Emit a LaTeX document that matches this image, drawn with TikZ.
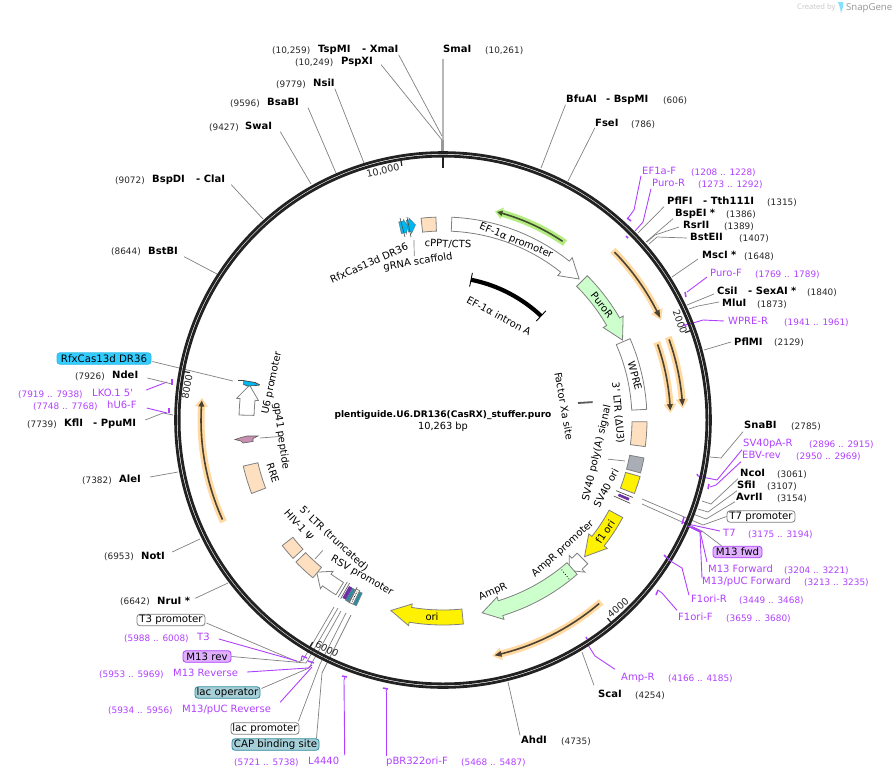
\documentclass[tikz,border=0pt]{standalone}
\usepackage{fontspec}
\setmainfont{DejaVu Sans}
\newfontfamily\plainfont{DejaVu Sans}
\newfontfamily\logofont{Open Sans}
\definecolor{prim}{HTML}{B040FF}
\definecolor{peach}{HTML}{FEDFC0}
\definecolor{mintg}{HTML}{CCFFCC}
\definecolor{grayf}{HTML}{A9AEB6}
\definecolor{tealb}{HTML}{A6CFD8}
\definecolor{teald}{HTML}{2F8CA0}
\definecolor{cyanb}{HTML}{33CCFF}
\definecolor{cyand}{HTML}{00B8F0}
\definecolor{lilac}{HTML}{E0B0FF}
\definecolor{darkp}{HTML}{6A2CA0}
\definecolor{pinkf}{HTML}{C890B0}
\definecolor{glowo}{HTML}{FFD9A0}
\definecolor{glowg}{HTML}{B5EC80}
\definecolor{orfd}{HTML}{4D4232}
\definecolor{orfg}{HTML}{3F5030}
\definecolor{ringc}{HTML}{222222}
\tikzset{
 tx/.style={inner sep=0pt,text height=7.2pt,text depth=1.8pt},
 enz/.style={tx,anchor=west,font=\fontsize{10}{11}\bfseries\selectfont},
 numb/.style={tx,anchor=west,font=\fontsize{8.9}{11}\selectfont,text=black!85},
 prn/.style={tx,anchor=west,font=\fontsize{10}{11}\selectfont,text=prim},
 prq/.style={tx,anchor=west,font=\fontsize{8.9}{11}\selectfont,text=prim},
 fl/.style={inner sep=0pt,font=\fontsize{10}{11}\selectfont},
 tickl/.style={inner sep=0pt,font=\fontsize{9.6}{11}\selectfont,text=black!85},
 lead/.style={draw=black!50,line width=0.7pt},
 plead/.style={draw=prim,line width=0.9pt},
 pmark/.style={draw=prim,line width=1.5pt},
 fw/.style={draw=black!50,line width=0.8pt,fill=white},
 fpeach/.style={fw,fill=peach},
 fgreen/.style={fw,fill=mintg},
 fyell/.style={fw,fill=yellow},
 fgray/.style={fw,fill=grayf},
 glowO/.style={fill=glowo,draw=none},
 glowG/.style={fill=glowg,draw=none},
 coreO/.style={fill=orfd,draw=none},
 coreG/.style={fill=orfg,draw=none},
 tagbox/.style={rounded corners=3pt,inner sep=0pt,minimum height=11.5pt,font=\fontsize{10.2}{11}\selectfont,line width=0.8pt},
 tagw/.style={tagbox,draw=black!50,fill=white},
 tagt/.style={tagbox,draw=teald,fill=tealb},
 tagc/.style={tagbox,draw=black!10!cyanb,fill=cyanb},
 tagl/.style={tagbox,draw=prim,fill=lilac},
}
\newcommand\lblE[4]{\node[enz] (#1) at (#2,#3) {#4};}
\newcommand\lblN[4]{\node[numb] (#1) at (#2,#3) {#4};}
\newcommand\lblP[4]{\node[prn] (#1) at (#2,#3) {#4};}
\newcommand\lblQ[4]{\node[prq] (#1) at (#2,#3) {#4};}
\newcommand\pt[2]{\coordinate (#1) at (#2);}
\newcommand\featbox[5]{\draw[#1] plot[variable=\t,domain=#4:#5,samples=12] ({\t-90}:#3) -- plot[variable=\t,domain=#5:#4,samples=12] ({\t-90}:#2) -- cycle;}
\newcommand\featarrow[7]{\draw[#1] plot[variable=\t,domain=#4:#5,samples=16] ({\t-90}:#3) -- ({#5-90}:{#3+#7}) -- ({#6-90}:{(#2+#3)/2}) -- ({#5-90}:{#2-#7}) -- plot[variable=\t,domain=#5:#4,samples=16] ({\t-90}:#2) -- cycle;}
\begin{document}
\begin{tikzpicture}[x=1pt,y=-1pt]
\useasboundingbox (0,0) rectangle (894,779);
% logo
\node[inner sep=0pt,anchor=west,font=\fontsize{7.6}{9}\logofont\selectfont,text=black!22] (logoa) at (797,8) {Created by};
\fill[cyanb!60] (838,2) -- (843,2) -- (843,7) -- (841,13) -- (840,8) -- cycle;
\node[inner sep=0pt,anchor=west,font=\fontsize{9.6}{11}\logofont\selectfont,text=black!42] (logob) at (846,8) {SnapGene};

% enzyme labels, top
\lblN{tsp-n}{272}{51}{(10,259)}\lblE{tsp}{318}{50}{TspMI}\lblE{xma}{362}{50}{- XmaI}
\lblE{sma}{443}{50}{SmaI}\lblN{sma-n}{485}{51}{(10,261)}
\lblN{psp-n}{295}{63}{(10,249)}\lblE{psp}{341}{62}{PspXI}
\lblN{nsi-n}{276}{85}{(9779)}\lblE{nsi}{313}{84}{NsiI}
\lblN{bsa-n}{230}{104}{(9596)}\lblE{bsa}{267}{103}{BsaBI}
\lblN{swa-n}{209}{128}{(9427)}\lblE{swa}{245}{127}{SwaI}
\lblN{bspd-n}{115}{181}{(9072)}\lblE{bspd}{152}{180}{BspDI}\lblE{cla}{196}{180}{- ClaI}
\lblN{bstb-n}{111}{252}{(8644)}\lblE{bstb}{148}{252}{BstBI}
\lblE{bfu}{566}{100}{BfuAI}\lblE{bspm}{606}{100}{- BspMI}\lblN{bfu-n}{663}{101}{(606)}
\lblE{fse}{595}{124}{FseI}\lblN{fse-n}{631}{125}{(786)}
% right side
\lblP{ef1f}{642}{172}{EF1a-F}\lblQ{ef1f-n}{691}{173}{(1208 .. 1228)}
\lblP{purr}{652}{184}{Puro-R}\lblQ{purr-n}{698}{185}{(1273 .. 1292)}
\lblE{pfl}{667}{202}{PflFI}\lblE{tth}{703}{202}{- Tth111I}\lblN{pfl-n}{767}{203}{(1315)}
\lblE{bspe}{675}{214}{BspEI *}\lblN{bspe-n}{726}{215}{(1386)}
\lblE{rsr}{683}{226}{RsrII}\lblN{rsr-n}{724}{227}{(1389)}
\lblE{bste}{690}{238}{BstEII}\lblN{bste-n}{739}{239}{(1407)}
\lblE{msc}{702}{256}{MscI *}\lblN{msc-n}{744}{257}{(1648)}
\lblP{purf}{710}{274}{Puro-F}\lblQ{purf-n}{755}{275}{(1769 .. 1789)}
\lblE{csi}{717}{292}{CsiI}\lblE{sex}{748}{292}{- SexAI *}\lblN{csi-n}{807}{293}{(1840)}
\lblE{mlu}{722}{304}{MluI}\lblN{mlu-n}{757}{305}{(1873)}
\lblP{wprer}{728}{322}{WPRE-R}\lblQ{wprer-n}{784}{323}{(1941 .. 1961)}
\lblE{pflm}{734}{343}{PflMI}\lblN{pflm-n}{774}{343}{(2129)}
\lblE{sna}{744}{426}{SnaBI}\lblN{sna-n}{791}{427}{(2785)}
\lblP{svr}{743}{444}{SV40pA-R}\lblQ{svr-n}{809}{445}{(2896 .. 2915)}
\lblP{ebv}{742}{456}{EBV-rev}\lblQ{ebv-n}{796}{457}{(2950 .. 2969)}
\lblE{nco}{740}{474}{NcoI}\lblN{nco-n}{777}{475}{(3061)}
\lblE{sfi}{737}{486}{SfiI}\lblN{sfi-n}{767}{487}{(3107)}
\lblE{avr}{736}{498}{AvrII}\lblN{avr-n}{777}{499}{(3154)}
\node[tagw,minimum width=68pt] (t7p) at (761,516.5) {T7 promoter};
\lblP{t7}{723}{534}{T7}\lblQ{t7-n}{748}{535}{(3175 .. 3194)}
\node[tagl,minimum width=49pt] (m13f) at (737.5,552) {M13 fwd};
\lblP{m13fw}{708}{570}{M13 Forward}\lblQ{m13fw-n}{784}{571}{(3204 .. 3221)}
\lblP{mpf}{702}{582}{M13/pUC Forward}\lblQ{mpf-n}{804}{583}{(3213 .. 3235)}
\lblP{f1r}{691}{600}{F1ori-R}\lblQ{f1r-n}{739}{601}{(3449 .. 3468)}
\lblP{f1f}{678}{618}{F1ori-F}\lblQ{f1f-n}{726}{619}{(3659 .. 3680)}
\lblP{ampr}{621}{678}{Amp-R}\lblQ{ampr-n}{668}{679}{(4166 .. 4185)}
\lblE{sca}{598}{695}{ScaI}\lblN{sca-n}{635}{696}{(4254)}
\lblE{ahd}{521}{741}{AhdI}\lblN{ahd-n}{561}{742}{(4735)}
% bottom
\lblP{pbr}{386}{762}{pBR322ori-F}\lblQ{pbr-n}{461}{763}{(5468 .. 5487)}
\lblQ{l44-n}{234}{763}{(5721 .. 5738)}\lblP{l44}{308}{762}{L4440}
\node[tagt,minimum width=87pt] (cap) at (275.5,744.5) {CAP binding site};
\node[tagw,minimum width=68pt] (lacp) at (265,728.5) {lac promoter};
\lblQ{mpr-n}{108}{711}{(5934 .. 5956)}\lblP{mpr}{182}{710}{M13/pUC Reverse}
\node[tagt,minimum width=65pt] (laco) at (227.5,692.5) {lac operator};
\lblQ{m13r-n}{99}{675}{(5953 .. 5969)}\lblP{m13r}{173}{674}{M13 Reverse}
\node[tagl,minimum width=48pt] (m13rv) at (207,656.5) {M13 rev};
\lblQ{t3-n}{124}{639}{(5988 .. 6008)}\lblP{t3}{197}{638}{T3}
\node[tagw,minimum width=68pt] (t3p) at (171,620) {T3 promoter};
\lblN{nru-n}{120}{602}{(6642)}\lblE{nru}{157}{602}{NruI *}
\lblN{not-n}{104}{557}{(6953)}\lblE{not}{141}{557}{NotI}
\lblN{ale-n}{82}{481}{(7382)}\lblE{ale}{119}{480}{AleI}
\lblN{kfl-n}{27}{425}{(7739)}\lblE{kfl}{64}{424}{KflI}\lblE{ppu}{93}{424}{- PpuMI}
\lblQ{hu6-n}{33}{407}{(7748 .. 7768)}\lblP{hu6}{107}{406}{hU6-F}
\lblQ{lko-n}{18}{395}{(7919 .. 7938)}\lblP{lko}{92}{394}{LKO.1 {\plainfont 5'}}
\lblN{nde-n}{75}{377}{(7926)}\lblE{nde}{112}{376}{NdeI}
\node[tagc,minimum width=94pt] (dr36) at (104,358.5) {RfxCas13d DR36};

% coordinates of leader ends
\pt{r-tsp}{442,136}\pt{r-psp}{442,140}\pt{r-nsi}{364,163}\pt{r-bsa}{336,173}\pt{r-swa}{311,184}
\pt{r-bspd}{263,219}\pt{r-bstb}{217,274}\pt{r-bfu}{541,168}\pt{r-fse}{568,181}
\pt{r-sma}{443,152}
\draw[draw=black!28,line width=2.5pt] (sma.south west) ++(0,4) -- (r-sma);
\draw[lead] (xma.south east) -- (r-tsp);
\draw[lead] (psp.south east) ++(8,-2) -- (r-psp);
\draw[lead] (nsi.south east) -- (r-nsi);
\draw[lead] (bsa.south east) ++(9,0) -- (r-bsa);
\draw[lead] (swa.south east) ++(8,0) -- (r-swa);
\draw[lead] (cla.south east) ++(6,0) -- (r-bspd);
\draw[lead] (bstb.south east) ++(6,0) -- (r-bstb);
\draw[lead] (bfu.south) ++(-16,0) -- (r-bfu);
\draw[lead] (fse.south west) ++(0,-1) -- (r-fse);
\fill[black!40] (441,140) rectangle (444,152);
% right leaders
\pt{a1}{634,210}\pt{a2}{628,218}\draw[plead] (ef1f.south west) ++(-1,-1) -- (a1) -- (a2);
\pt{b1}{643,222}\pt{b2}{635,231}\draw[plead] (purr.south west) ++(-1,0) -- (b1) -- (b2);
\pt{c1}{638,233}\draw[lead] (pfl.south west) ++(-3,0) -- (c1);
\pt{c2}{646,242}\draw[lead] (bspe.south west) ++(-2,0) -- (c2);
\pt{c3a}{655,235}\pt{c3b}{647,242}\draw[lead] (rsr.west) ++(-4,1) -- (c3a) -- (c3b);
\pt{c4a}{657,237}\pt{c4b}{649,244}\draw[lead] (bste.west) ++(-3,0) -- (c4a) -- (c4b);
\pt{c5}{672,277}\draw[lead] (msc.west) ++(-4,3) -- (c5);
\pt{d1}{687,292}\draw[plead] (purf.west) ++(-3,3) -- (d1);
\pt{c6}{687,305}\draw[lead] (csi.west) ++(-3,2) -- (c6);
\pt{c7a}{698,306}\pt{c7b}{689,309}\draw[lead] (mlu.west) ++(-3,-2) -- (c7a) -- (c7b);
\pt{d2a}{703,320}\pt{d2b}{693,323}\pt{d2c}{685,325}\draw[plead] (wprer.west) ++(-4,-1) -- (d2a) -- (d2b) -- (d2c);
\pt{c8}{704,350}\draw[lead] (pflm.west) ++(-3,-1) -- (c8);
\pt{e1a}{721,458}\pt{e1b}{710,457}\draw[lead] (sna.south west) ++(-1,1) -- (e1a) -- (e1b);
\pt{f1a}{717,480}\pt{f1b}{707,478}\pt{f1c}{698,476}\draw[plead] (svr.south west) ++(-1,1) -- (f1a) -- (f1b) -- (f1c);
\pt{f2a}{716,485}\pt{f2b}{710,487}\draw[plead] (ebv.south west) ++(-1,1) -- (f2a) -- (f2b);
\pt{e2a}{711,504}\pt{e2b}{702,501}\draw[lead] (nco.south west) ++(-2,0) -- (e2a) -- (e2b);
\pt{e3a}{708,512}\pt{e3b}{698,509}\draw[lead] (sfi.south west) ++(0,0) -- (e3a) -- (e3b);
\pt{e4a}{706,519}\pt{e4b}{693,514}\draw[lead] (avr.south west) ++(-1,-1) -- (e4a) -- (e4b);
\pt{g1a}{642,499}\pt{g1b}{703,525}\draw[lead] (t7p.west) -- (g1b) -- (g1a);
\pt{g2a}{642,504}\pt{g2b}{702,531}\draw[lead] (m13f.north west) ++(9,0) -- (g2b) -- (g2a);
\pt{h1a}{692,525}\pt{h1b}{683,522}\draw[plead] (t7.west) ++(-3,-3) -- (h1a) -- (h1b);
\pt{h2}{700,531}\pt{h2b}{692,527}\draw[plead] (m13fw.west) ++(-1,-8) -- (h2) -- (h2b);
\pt{h3}{700,532}\pt{h3b}{688,526}\draw[plead] (mpf.north west) ++(0,1) -- (h3) -- (h3b);
\pt{i1a}{682,568}\pt{i1b}{672,562}\draw[plead] (f1r.north west) ++(-2,0) -- (i1a) -- (i1b);
\pt{i2}{662,593}\draw[plead] (f1f.north west) ++(-1,-3) -- (i2);
\pt{i3a}{595,656}\pt{i3b}{588,645}\draw[plead] (ampr.north west) ++(-6,-4) -- (i3a) -- (i3b);
\pt{j1}{582,652}\draw[lead] (sca.north west) ++(-4,-5) -- (j1);
\pt{j2}{508,682}\draw[lead] (ahd.north west) ++(-1,-1) -- (j2);
% bottom leaders
\pt{k1}{386,692}\draw[plead] (pbr.north west) ++(0,-1) -- (k1);
\pt{k2}{344,680}\draw[plead] (l44.north) ++(21,-2) -- (k2);
\pt{l1a}{326,665}\pt{l1b}{351,615}\pt{l1c}{322,673}\draw[lead] (cap.north) ++(41,0) -- (l1c) -- (l1a) -- (l1b);
\pt{l2a}{320,664}\pt{l2b}{346,613}\draw[lead] (lacp.north east) ++(-1,-1) -- (l2a) -- (l2b);
\pt{l3a}{309,668}\pt{l3b}{341,611}\draw[lead] (laco.east) ++(1,-4) -- (l3a) -- (l3b);
\pt{l4a}{306,663}\pt{l4b}{338,608}\draw[lead] (m13rv.east) -- (l4a) -- (l4b);
\pt{l5a}{298,662}\pt{l5b}{303,660}\pt{l5c}{334,607}\draw[lead] (t3p.east) ++(1,3) -- (l5a) -- (l5b) -- (l5c);
\pt{n1}{297,661}\draw[plead] (t3.east) ++(9,1) -- (n1);
\pt{n2a}{308,668}\pt{n2b}{312,665}\draw[plead] (m13r.east) ++(9,-2) -- (n2a) -- (n2b);
\pt{n3}{312,667}\draw[plead] (mpr.north east) ++(9,-3) -- (n3);
% left leaders
\pt{o1}{228,583}\draw[lead] (nru.north east) ++(5,1) -- (o1);
\pt{o2}{200,539}\draw[lead] (not.east) ++(7,-5) -- (o2);
\pt{o3}{178,472}\draw[lead] (ale.east) ++(9,-3) -- (o3);
\pt{o4a}{163,413}\pt{o4b}{173,415}\draw[lead] (ppu.east) ++(9,-4) -- (o4a) -- (o4b);
\pt{q1}{167,413}\draw[plead] (hu6.east) ++(10,2) -- (q1);
\pt{q2}{167,382}\draw[plead] (lko.east) ++(13,-4) -- (q2);
\pt{o5}{172,384}\draw[lead] (nde.east) ++(9,2) -- (o5);
\pt{o6}{233,381}\draw[lead] (dr36.east) ++(1,3) -- (o6);

% ring
\begin{scope}[shift={(443,420)}]
\draw[ringc,line width=2.8pt] (0,0) circle[radius=267.4pt];
\draw[ringc,line width=2.8pt] (0,0) circle[radius=263.9pt];
\foreach \a in {350.8,70.15,140.3,210.4,280.6}
  \draw[ringc,line width=1.2pt] ({\a-90}:263) -- ({\a-90}:257.5);
\draw[ringc,line width=2.8pt] (-90:263) -- (-90:252);

% ORF arrows
\featarrow{glowG}{211.5}{218.5}{34.6}{16}{14}{2.5}
\featarrow{coreG}{214.2}{215.8}{33.8}{16}{14.6}{2}
\featarrow{glowO}{236.5}{243.5}{45}{63}{65.4}{3}
\featarrow{coreO}{239.2}{240.8}{45.6}{63}{64.8}{2.2}
\featarrow{glowO}{236.5}{243.5}{69.8}{85}{87.2}{3}
\featarrow{coreO}{239.2}{240.8}{70.4}{85}{86.6}{2.2}
\featarrow{glowO}{224}{231}{70}{86}{88.2}{3}
\featarrow{coreO}{226.7}{228.3}{70.6}{86}{87.6}{2.2}
\featarrow{glowO}{237.5}{244.5}{139}{166}{168.2}{3}
\featarrow{coreO}{240.2}{241.8}{139.6}{166}{167.6}{2.2}
\featarrow{glowO}{238.5}{245.5}{245.1}{273.2}{275.2}{3}
\featarrow{coreO}{241.2}{242.8}{245.7}{273.2}{274.6}{2.2}

% inner features, clockwise
\featarrow{fw}{189}{203}{2.5}{38.5}{44}{4.5}
\featarrow{fgreen}{189}{204}{45}{60}{66}{4}
\featbox{fw}{189}{204}{66.5}{87}
\featbox{fpeach}{189}{204}{90.5}{97.5}
\featbox{fgray}{190}{204.5}{100.7}{105}
\featbox{fyell}{190}{205}{106}{111}
\featarrow{fyell}{189}{204.5}{118.5}{128}{134}{4}
\featarrow{fw}{189}{204}{134.8}{137}{140}{4}
\featarrow{fgreen}{189}{204.5}{139}{163}{168.5}{4}
\draw[black,line width=0.8pt,dotted] (141.6-90:191) -- (141.6-90:203);
\featarrow{fyell}{190}{205}{174.3}{189.5}{195.3}{3.5}
% cluster near 6000
\featbox{fw}{190}{205}{206}{207.2}
\draw[black,line width=0.7pt,densely dotted] (206.6-90:192) -- (206.6-90:203);
\featbox{draw=black!50,line width=0.5pt,fill=teald}{191}{205}{205}{206}
\featbox{draw=black!50,line width=0.5pt,fill=teald}{191}{205}{207.4}{208.4}
\featbox{draw=darkp,line width=0.5pt,fill=darkp!90!prim}{191}{204}{208.5}{209.4}
\draw[black!60,line width=0.7pt] (207.2-90:188) -- (207.2-90:206);
\draw[black!60,line width=0.7pt] (209.8-90:188) -- (209.8-90:206);
\draw[black!60,line width=0.7pt] (210.6-90:188) -- (210.6-90:206);
\featarrow{fw}{190.5}{205}{211.5}{216}{219.7}{3.5}
\featbox{fpeach}{191}{204.5}{219.5}{226}
\featbox{fpeach}{190.5}{204}{227.3}{232}
\featbox{fpeach}{190}{205}{249}{257}
\featarrow{fw}{189}{204}{271.4}{276}{280.2}{3.5}
\featbox{fpeach}{189}{203}{-6.2}{-2}
% black intron arc
\draw[black,line width=4.2pt] plot[variable=\t,domain=11.3:43.3,samples=20] ({\t-90}:143);
\draw[black,line width=0.9pt] (11.3-90:136) -- (11.3-90:150);
\draw[black,line width=0.9pt] (43.3-90:136) -- (43.3-90:150);
% T7 cluster
\featbox{draw=darkp,line width=0.5pt,fill=darkp!90!prim}{191}{202}{112.8}{113.4}
\draw[black!70,line width=0.7pt] (112.2-90:187) -- (112.2-90:205);
\draw[black!70,line width=0.7pt] (114-90:187) -- (114-90:205);
% DR36 arrows
\featarrow{draw=black!60,line width=0.3pt,fill=cyand}{191}{203}{-12.6}{-11.2}{-10.2}{1.5}
\featarrow{draw=black!60,line width=0.3pt,fill=cyand}{191}{203}{-10.4}{-9.6}{-8}{2}
\end{scope}
\draw[black!70,line width=0.6pt] (400,218) -- (405,237);
\draw[black!70,line width=0.6pt] (407,217) -- (411,237);
% small left features
\fill[cyand] (243,380.5) -- (255,382.5) -- (259,385) -- (247,386) -- (243,384) -- cycle;
\draw[black!75,line width=0.7pt] (238,380.5) -- (243,380.5) -- (255,382.5) -- (260,385);
\draw[black!75,line width=0.6pt] (243,384) -- (247,386) -- (259,385.3);
\draw[draw=black!65,fill=pinkf,line width=0.6pt] (235,439.5) -- (241,437.5) -- (247,436) -- (258,436) -- (253,438.5) -- (253,441.5) -- (243,443) -- (241,441) -- cycle;
% primer marks
\draw[pmark] (627,218) -- (631,221);
\draw[pmark] (626,236) -- (628,238);
\draw[pmark] (685,292) -- (686,297);
\draw[pmark] (684,324) -- (686,327);
\draw[pmark] (697,474) -- (698,476);
\draw[pmark] (709,484) -- (708,489);
\draw[pmark] (684,517) -- (682,524);
\draw[pmark] (664,555) -- (666,557);
\draw[pmark] (658,590) -- (656,595);
\draw[pmark] (586,637) -- (587,639);
\draw[pmark] (172,379) -- (172,385);
\draw[pmark] (169,408) -- (169,413);
\draw[pmark] (302,656) -- (307,658);
\draw[pmark] (308,661) -- (314,663);
\draw[pmark] (342,676) -- (347,677);
\draw[pmark] (383,688) -- (388,689);
\draw[plead] (692,527) -- (702,532);
\draw[plead] (688,526) -- (698,531);
\draw[plead] (658,590) -- (662,593);
\draw[plead] (666,557) -- (672,562);
\draw[plead] (345,677) -- (344,680);
\draw[plead] (387,689) -- (386,692);
\draw[plead] (302,656) -- (301,661);

% tick labels
\node[tickl,rotate=13] (t10k) at (383,171) {10,000};
\node[tickl,rotate=-70] (t2k) at (680,322) {2000};
\node[tickl,rotate=40] (t4k) at (618,608) {4000};
\node[tickl,rotate=-28] (t6k) at (327,649) {6000};
\node[tickl,rotate=80] (t8k) at (187,387) {8000};

% centre
\node[inner sep=0pt,font=\fontsize{9.05}{10}\bfseries\selectfont] (title) at (443,415.5) {plentiguide.U6.DR136(CasRX)\_stuffer.puro};
\node[inner sep=0pt,font=\fontsize{9.8}{10}\selectfont] (size) at (443,427) {10,263 bp};

% feature labels
\node[fl,rotate=24] (lDR) at (369,263) {RfxCas13d DR36};
\node[fl,rotate=9] (lgR) at (418,262) {gRNA scaffold};
\node[fl,rotate=-2] (lcP) at (448,244) {cPPT/CTS};
\node[fl,rotate=-22] (lEF) at (516,241) {EF-1α promoter};
\node[fl,rotate=-28] (lIn) at (499,316) {EF-1α intron A};
\node[fl,rotate=-52] (lPu) at (602,305) {PuroR};
\node[fl,rotate=-75] (lWP) at (635,376) {WPRE};
\node[fl,rotate=-85] (lLT) at (618,413) {{\plainfont 3'} LTR (ΔU3)};
\node[fl,rotate=-80] (lFX) at (564,406) {Factor Xa site};
\node[fl,rotate=77] (lSV) at (597,453) {SV40 poly(A) signal};
\node[fl,rotate=62] (lSO) at (606,488) {SV40 ori};
\node[fl,rotate=56] (lF1) at (605,532) {f1 ori};
\node[fl,rotate=42] (lAP) at (563,549) {AmpR promoter};
\node[fl,rotate=23] (lAm) at (493,592) {AmpR};
\node[fl] (lOr) at (432,617) {ori};
\node[fl,rotate=-30] (lRS) at (362,576) {RSV promoter};
\node[fl,rotate=-43] (lLF) at (334,539) {{\plainfont 5'} LTR (truncated)};
\node[fl,rotate=-48] (lHI) at (299,525) {HIV-1 Ψ};
\node[fl,rotate=-72] (lRR) at (273,473) {RRE};
\node[fl,rotate=-82] (lgp) at (281,436) {gp41 peptide};
\node[fl,rotate=78] (lU6) at (272,383) {U6 promoter};
% inner thin connectors
\pt{u1}{414,240}\draw[lead] (lgR.north) ++(-3,-1) -- (u1);
\pt{u2}{625,461}\draw[lead] (lSV.south) ++(6,5) -- (u2);
\pt{u3}{315,559}\draw[lead] (lLF.south) ++(-8,8) -- (u3);
\pt{u4}{260,438}\draw[lead] (lgp.north) ++(-4,1) -- (u4);
\pt{u5}{578,403}\draw[draw=black!65,line width=1.8pt] (lFX.north) ++(24.6,-3.2) -- (u5);
\end{tikzpicture}
\end{document}
